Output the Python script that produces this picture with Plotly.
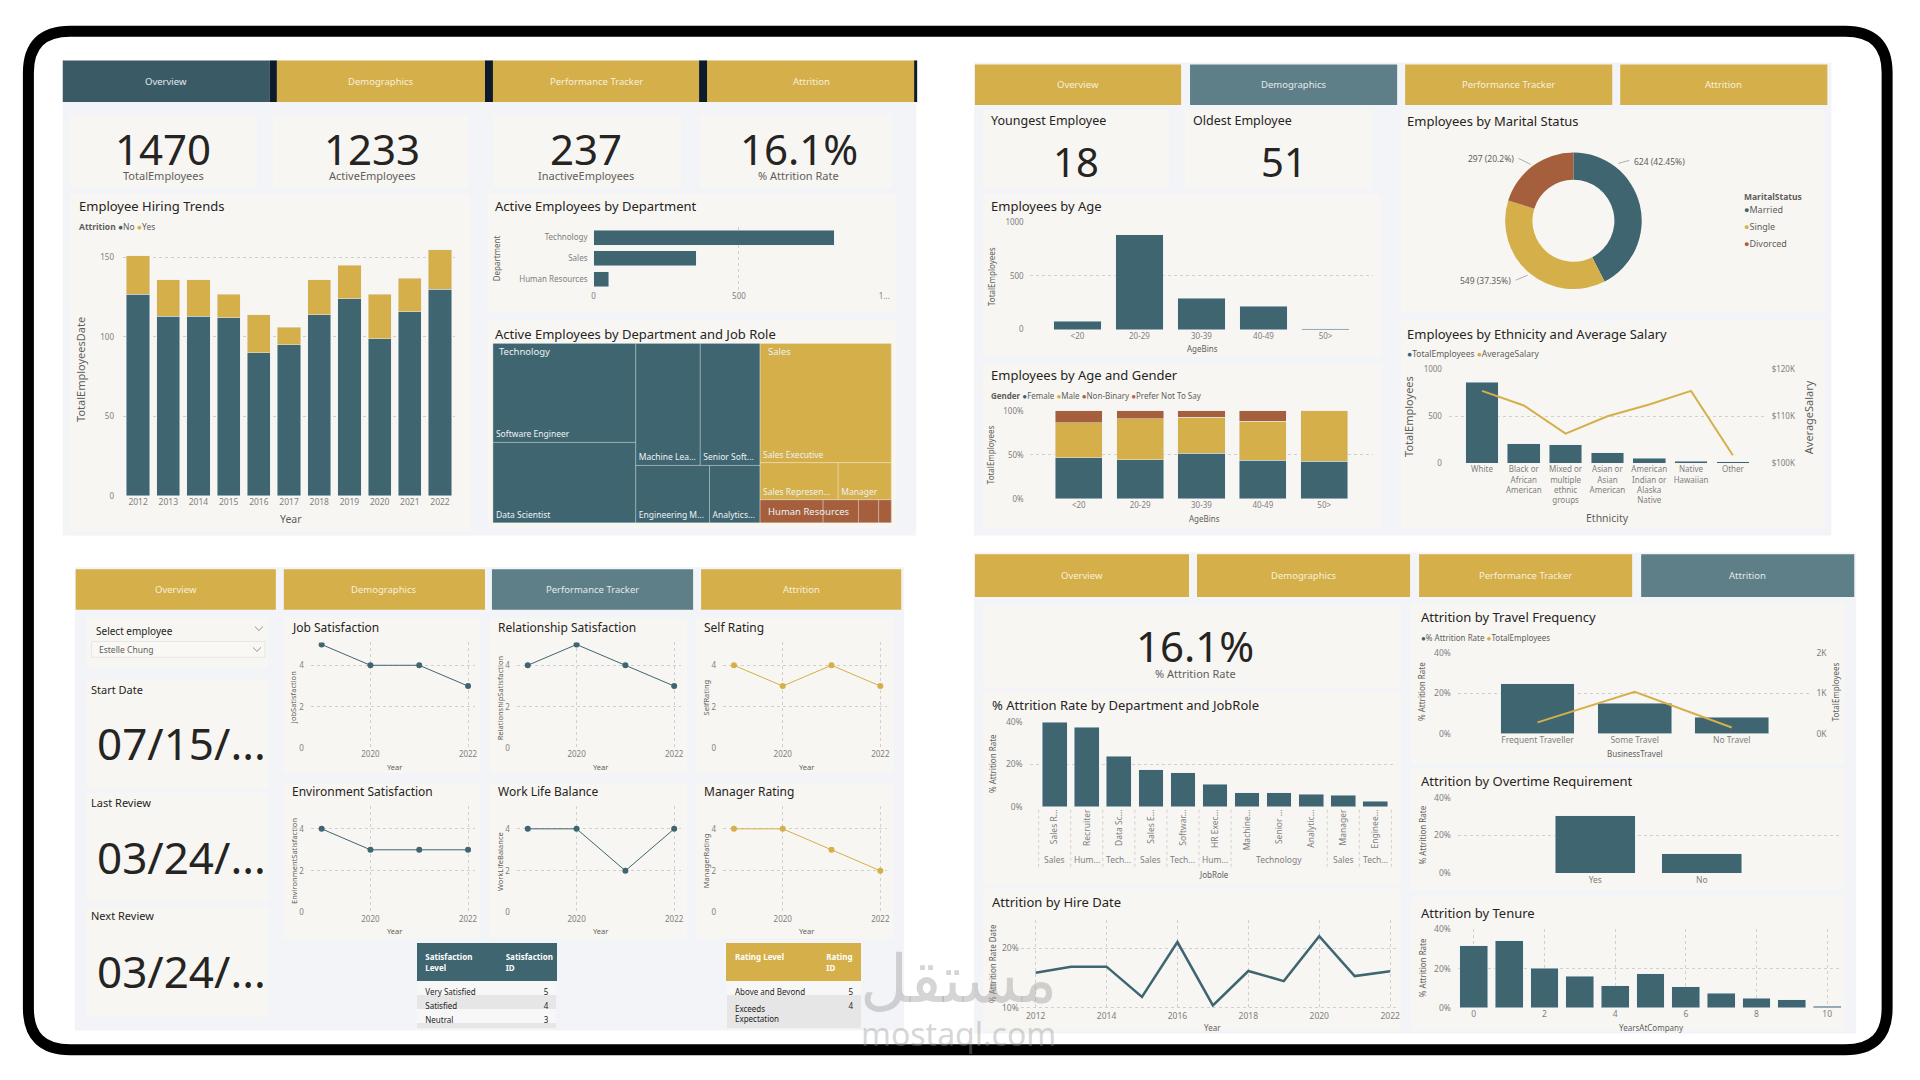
import textwrap
import plotly.graph_objects as go

W, H = 1920, 1080
def X(x): return x / W
def Y(y): return 1 - y / H

FONT = "Noto Sans"
TEAL = "#3f6571"; TEAL_DARK = "#3a5a66"; GOLD = "#d4af4a"; RUST = "#a65f3c"; ORANGE = "#cf5b3b"
SEL = "#5e7f88"; PANEL = "#f3f4f7"; CARD = "#f8f6f2"; SEP = "#0d1b2a"
TXT = "#252423"; SUB = "#605e5c"; TICK = "#7f7f7f"; GRID = "#d0d0d0"

# ---------------- data ----------------
years = [2012, 2013, 2014, 2015, 2016, 2017, 2018, 2019, 2020, 2021, 2022]
hired_active = [127, 113, 113, 112, 90, 95, 114, 124, 99, 116, 130]
hired_left = [24, 23, 23, 15, 24, 11, 22, 21, 28, 21, 25]

dept_names = ["Technology", "Sales", "Human Resources"]
dept_active = [827, 354, 52]

tm_dept = ["Technology"] * 6 + ["Sales"] * 3 + ["Human Resources"] * 4
tm_role = ["Software Engineer", "Data Scientist", "Machine Learning Engineer", "Senior Software Engineer",
           "Engineering Manager", "Analytics Manager", "Sales Executive", "Sales Representative", "Manager",
           "HR Executive", "Recruiter", "HR Manager", "HR Business Partner"]
tm_value = [244, 198, 136, 126, 73, 50, 270, 50, 34, 25, 14, 8, 5]
tm_shown = ["Software Engineer", "Data Scientist", "Machine Lea...", "Senior Soft...", "Engineering M...",
            "Analytics...", "Sales Executive", "Sales Represen...", "Manager", "", "", "", ""]

age_bins = ["<20", "20-29", "30-39", "40-49", "50>"]
age_counts = [80, 878, 290, 215, 7]
gender_names = ["Female", "Male", "Non-Binary", "Prefer Not To Say"]
gender_share = [[46.6, 44.4, 51.9, 43.7, 42.9],
                [40.0, 46.6, 40.6, 44.7, 57.1],
                [13.4, 9.0, 7.5, 11.6, 0.0],
                [0.0, 0.0, 0.0, 0.0, 0.0]]

marital = ["Married", "Single", "Divorced"]
marital_counts = [624, 549, 297]

ethnicity = ["White", "Black or African American", "Mixed or multiple ethnic groups", "Asian or Asian American",
             "American Indian or Alaska Native", "Native Hawaiian", "Other"]
eth_counts = [861, 209, 199, 111, 52, 24, 14]
eth_salary = [115400, 112300, 106300, 110000, 112500, 115400, 101700]

perf_years = [2019, 2020, 2021, 2022]
job_sat = [5, 4, 4, 3]
rel_sat = [4, 5, 4, 3]
self_rating = [4, 3, 4, 3]
env_sat = [4, 3, 3, 3]
work_life = [4, 4, 2, 4]
mgr_rating = [4, 4, 3, 2]

employee = "Estelle Chung"
start_date = "07/15/..."
last_review = "03/24/..."
next_review = "03/24/..."

sat_levels = ["Very Satisfied", "Satisfied", "Neutral", "Dissatisfied", "Very Dissatisfied"]
sat_ids = [5, 4, 3, 2, 1]
rating_levels = ["Above and Beyond", "Exceeds Expectation", "Meets Expectation", "Needs Improvement", "Unacceptable"]
rating_ids = [5, 4, 3, 2, 1]

role_names = ["Sales Representative", "Recruiter", "Data Scientist", "Sales Executive", "Software Engineer",
              "HR Executive", "Machine Learning Engineer", "Senior Software Engineer", "Analytics Manager",
              "Manager", "Engineering Manager"]
role_short = ["Sales R...", "Recruiter", "Data Sc...", "Sales E...", "Softwar...", "HR Exec...", "Machine...",
              "Senior ...", "Analytic...", "Manager", "Enginee..."]
role_dept = ["Sales", "Human Resources", "Technology", "Sales", "Technology", "Human Resources", "Technology",
             "Technology", "Technology", "Sales", "Technology"]
role_rate = [39.7, 37.4, 23.7, 17.4, 15.9, 10.6, 6.7, 6.7, 5.8, 5.3, 2.6]
dept_short = {"Sales": "Sales", "Human Resources": "Hum...", "Technology": "Tech..."}

travel = ["Frequent Traveller", "Some Travel", "No Travel"]
travel_rate = [24.9, 15.0, 8.0]
travel_total = [277, 1043, 150]
overtime = ["Yes", "No"]
overtime_rate = [30.4, 10.2]
tenure_years = [0, 1, 2, 3, 4, 5, 6, 7, 8, 9, 10]
tenure_rate = [31.6, 34.3, 20.1, 16.0, 11.3, 17.4, 10.6, 7.3, 4.9, 4.1, 0.7]

nav_labels = ["Overview", "Demographics", "Performance Tracker", "Attrition"]

# ---------------- derived KPIs ----------------
total_emp = sum(hired_active) + sum(hired_left)
active_emp = sum(hired_active)
inactive_emp = sum(hired_left)
attr_rate = inactive_emp / total_emp * 100
hire_rate = [l / (a + l) * 100 for a, l in zip(hired_active, hired_left)]

fig = go.Figure()
shapes, ann = [], []

def rect(x0, y0, x1, y1, fill, layer="below", line=None):
    shapes.append(dict(type="rect", xref="paper", yref="paper", x0=X(x0), x1=X(x1), y0=Y(y1), y1=Y(y0),
                       fillcolor=fill, line=line or dict(width=0), layer=layer))

def text(x, y, s, size, color=TXT, xa="left", ya="middle", angle=0, **kw):
    d = dict(x=X(x), y=Y(y), xref="paper", yref="paper", text=s, showarrow=False, xanchor=xa, yanchor=ya,
             textangle=angle, font=dict(size=size, color=color, family=FONT))
    d.update(kw)
    ann.append(d)

def dot(c):
    return f"<span style='color:{c}'>●</span>"

def pct(vals):
    return [f"{v:g}%" for v in vals]

# ---------------- panels / nav ----------------
rect(61, 55, 918, 535, PANEL)
rect(976, 57, 1837, 535, PANEL)
rect(73, 567, 906, 1035, PANEL)
rect(976, 552, 1862, 1038, PANEL)

navs = [
    ([(61, 269), (276, 485), (493, 700), (708, 917)], (55, 97), 0, TEAL_DARK),
    ([(977, 1184), (1193, 1401), (1409, 1617), (1625, 1833)], (59, 100), 1, SEL),
    ([(74, 275), (283, 485), (492, 694), (702, 903)], (569, 610), 2, SEL),
    ([(977, 1192), (1200, 1414), (1423, 1637), (1646, 1860)], (554, 597), 3, SEL),
]
for k, (xs, (y0, y1), sel, selc) in enumerate(navs):
    for i, (x0, x1) in enumerate(xs):
        rect(x0, y0, x1, y1, selc if i == sel else GOLD)
        text((x0 + x1) / 2, (y0 + y1) / 2, nav_labels[i], 9.5,
             color="#e4eaec" if i == sel else "#f7f1de", xa="center")
for x0, x1 in [(269, 276), (485, 493), (700, 708), (916, 919)]:
    rect(x0, 55, x1, 97, SEP)

# ---------------- cards ----------------
for c in [(68, 110, 256, 183), (272, 110, 468, 183), (493, 110, 682, 183), (700, 110, 893, 183),
          (68, 190, 470, 530), (488, 190, 898, 310), (488, 318, 898, 528),
          (985, 105, 1172, 185), (1188, 105, 1375, 185), (985, 190, 1385, 355), (985, 362, 1385, 528),
          (1405, 105, 1830, 310), (1405, 318, 1830, 528),
          (85, 618, 267, 668), (85, 680, 267, 790), (85, 795, 267, 905), (85, 910, 267, 1020),
          (283, 618, 480, 775), (490, 618, 688, 775), (697, 618, 895, 775),
          (283, 785, 480, 942), (490, 785, 688, 942), (697, 785, 895, 942),
          (985, 606, 1405, 688), (985, 692, 1405, 888), (985, 892, 1405, 1035),
          (1415, 603, 1850, 765), (1415, 770, 1850, 893), (1415, 900, 1850, 1035)]:
    rect(*c, CARD)

# ---------------- axes helper ----------------
axes = {}
def ref(n, a):
    return a if n == 1 else f"{a}{n}"

def add_axes(n, xd, yd, xkw=None, ykw=None):
    base = dict(showline=False, zeroline=False, ticks="", showgrid=False, gridcolor=GRID, griddash="dot",
                gridwidth=1, fixedrange=True, tickfont=dict(size=8, color=TICK, family=FONT))
    xa = dict(base); xa.update(domain=[X(xd[0]), X(xd[1])], anchor=ref(n, "y")); xa.update(xkw or {})
    ya = dict(base); ya.update(domain=[Y(yd[1]), Y(yd[0])], anchor=ref(n, "x")); ya.update(ykw or {})
    axes["xaxis" if n == 1 else f"xaxis{n}"] = xa
    axes["yaxis" if n == 1 else f"yaxis{n}"] = ya

F85 = dict(size=8.5, color=TICK, family=FONT)

# ---------------- Q1: overview ----------------
for cx, val, lab in [(162, f"{total_emp}", "TotalEmployees"), (372, f"{active_emp}", "ActiveEmployees"),
                     (586, f"{inactive_emp}", "InactiveEmployees"), (800, f"{attr_rate:.1f}%", "% Attrition Rate")]:
    text(cx, 144, val, 42, xa="center")
    text(cx, 171, lab, 11, color=SUB, xa="center")

text(75, 202, "Employee Hiring Trends", 13)
text(75, 223, f"<b>Attrition</b> {dot(TEAL)}No {dot(GOLD)}Yes", 8.5, color=SUB)
fig.add_bar(x=years, y=hired_active, marker_color=TEAL, width=0.77, xaxis="x", yaxis="y", name="No")
fig.add_bar(x=years, y=hired_left, marker_color=GOLD, width=0.77, xaxis="x", yaxis="y", name="Yes")
add_axes(1, (121.5, 455), (238, 495),
         dict(type="category", tickfont=F85),
         dict(range=[0, 160], tickvals=[0, 50, 100, 150], showgrid=True, ticklabelstandoff=8))
text(79, 367, "TotalEmployeesDate", 11, color=SUB, xa="center", angle=-90)
text(290, 518, "Year", 10.5, color=SUB, xa="center")

text(493, 202, "Active Employees by Department", 13)
fig.add_bar(x=dept_active, y=dept_names, orientation="h", marker_color=TEAL, width=0.72, xaxis="x2", yaxis="y2")
add_axes(2, (594, 886), (223.5, 286.5),
         dict(range=[0, 1000], tickvals=[0, 500, 1000], ticktext=["0", "500", "1..."], showgrid=True),
         dict(type="category", categoryorder="array", categoryarray=dept_names, autorange="reversed",
              ticklabelstandoff=5))
text(496, 255, "Department", 8, color=SUB, xa="center", angle=-90)

text(493, 331, "Active Employees by Department and Job Role", 13)
depts_u = list(dict.fromkeys(tm_dept))
dcol = {"Technology": TEAL, "Sales": GOLD, "Human Resources": RUST}
ids = depts_u + [f"{d}/{r}" for d, r in zip(tm_dept, tm_role)]
labels = depts_u + tm_role
parents = [""] * len(depts_u) + tm_dept
values = [0] * len(depts_u) + tm_value
shown = [""] * len(depts_u) + tm_shown
colors = [dcol[d] for d in depts_u] + [dcol[d] for d in tm_dept]
fig.add_trace(go.Treemap(ids=ids, labels=labels, parents=parents, values=values, text=shown,
                         texttemplate="%{text}", textposition="bottom left", sort=True,
                         marker=dict(colors=colors, line=dict(color="rgba(255,255,255,0.35)", width=1),
                                     pad=dict(t=0, l=0, r=0, b=0)),
                         textfont=dict(size=8.5, color="#eef2f3", family=FONT),
                         tiling=dict(packing="squarify", squarifyratio=1.618, pad=0), pathbar=dict(visible=False),
                         domain=dict(x=[X(493), X(893)], y=[Y(522), Y(341)]), hoverinfo="skip"))
# department header labels in the top-left corner of each department block
for d, (lx, ly) in zip(depts_u, [(497, 349), (767, 349), (767, 511)]):
    text(lx, ly, d, 9.5, color="#eef2f3")

# ---------------- Q2: demographics ----------------
text(991, 116, "Youngest Employee", 12.5)
text(1078, 157, "18", 40, xa="center")
text(1194, 116, "Oldest Employee", 12.5)
text(1287, 157, "51", 40, xa="center")

text(991, 202, "Employees by Age", 13)
fig.add_bar(x=age_bins, y=age_counts, marker_color=TEAL, width=0.77, xaxis="x3", yaxis="y3")
add_axes(3, (1032, 1377), (218, 327),
         dict(type="category", range=[-0.77, 4.77]),
         dict(range=[0, 1000], tickvals=[0, 500, 1000], showgrid=True, ticklabelstandoff=5))
text(993, 273, "TotalEmployees", 8, color=SUB, xa="center", angle=-90)
text(1206, 346, "AgeBins", 8, color=SUB, xa="center")

text(991, 373, "Employees by Age and Gender", 13)
gcols = [TEAL, GOLD, RUST, ORANGE]
text(991, 394, "<b>Gender</b> " + " ".join(f"{dot(c)}{g}" for g, c in zip(gender_names, gcols)), 8, color=SUB)
for g, c, share in zip(gender_names, gcols, gender_share):
    fig.add_bar(x=age_bins, y=share, marker_color=c, width=0.77, xaxis="x4", yaxis="y4", name=g)
add_axes(4, (1032, 1377), (409, 498),
         dict(type="category", range=[-0.8, 4.8]),
         dict(range=[0, 100], tickvals=[0, 50, 100], ticktext=pct([0, 50, 100]), showgrid=True,
              ticklabelstandoff=5))
text(993, 453, "TotalEmployees", 8, color=SUB, xa="center", angle=-90)
text(1208, 518, "AgeBins", 8, color=SUB, xa="center")

text(1409, 116, "Employees by Marital Status", 13)
mcols = [TEAL, GOLD, RUST]
fig.add_trace(go.Pie(labels=marital, values=marital_counts, hole=0.6, sort=False, direction="clockwise",
                     textinfo="none", marker=dict(colors=mcols, line=dict(width=0)), showlegend=False,
                     domain=dict(x=[X(1509), X(1647)], y=[Y(286), Y(148)]), hoverinfo="skip"))
pie_lab_pos = [(1637, 157, "left", (1623, 159, 1634, 156)),
               (1517, 277, "right", (1532, 272, 1520, 277)),
               (1520, 154, "right", (1535, 160, 1523, 154))]
tot_m = sum(marital_counts)
for v, (lx, ly, anc, ln) in zip(marital_counts, pie_lab_pos):
    p = f"{v / tot_m * 100:.2f}".rstrip("0").rstrip(".")
    text(lx, ly, f"{v} ({p}%)", 8.5, color=SUB, xa=anc)
    shapes.append(dict(type="line", xref="paper", yref="paper", x0=X(ln[0]), y0=Y(ln[1]), x1=X(ln[2]),
                       y1=Y(ln[3]), line=dict(color="#9a9a9a", width=0.8)))
text(1747, 192, "<b>MaritalStatus</b>", 8.5, color=SUB)
for i, (m, c) in enumerate(zip(marital, mcols)):
    text(1747, 206 + 17 * i, f"{dot(c)}{m}", 9, color=SUB)

text(1409, 331, "Employees by Ethnicity and Average Salary", 13)
text(1409, 351, f"{dot(TEAL)}TotalEmployees {dot(GOLD)}AverageSalary", 8.5, color=SUB)
fig.add_bar(x=ethnicity, y=eth_counts, marker_color=TEAL, width=0.78, xaxis="x5", yaxis="y5")
fig.add_scatter(x=ethnicity, y=eth_salary, mode="lines", line=dict(color=GOLD, width=2), xaxis="x5", yaxis="y17")
add_axes(5, (1453, 1770), (367, 462),
         dict(type="category", range=[-0.79, 6.76], tickvals=ethnicity,
              ticktext=["<br>".join(textwrap.wrap(e, 9)) for e in ethnicity]),
         dict(range=[0, 1000], tickvals=[0, 500, 1000], showgrid=True, ticklabelstandoff=6))
axes["yaxis17"] = dict(overlaying="y5", side="right", anchor="x5", range=[100000, 120000],
                       tickvals=[100000, 110000, 120000], ticktext=["$100K", "$110K", "$120K"],
                       showgrid=False, zeroline=False, showline=False, ticks="", fixedrange=True,
                       tickfont=dict(size=8, color=TICK, family=FONT), ticklabelstandoff=6)
text(1413, 415, "TotalEmployees", 11, color=SUB, xa="center", angle=-90)
text(1814, 415, "AverageSalary", 11, color=SUB, xa="center", angle=-90)
text(1612, 517, "Ethnicity", 10.5, color=SUB, xa="center")

# ---------------- Q3: performance tracker ----------------
text(92, 631, "Select employee", 10)
rect(90, 642, 264, 658, "#f9f8f5", line=dict(color="#e2e2e2", width=0.8))
text(95, 650, employee, 8.5, color=SUB)
for cx, cy in [(258, 629), (256, 650)]:
    shapes.append(dict(type="path", xref="paper", yref="paper", layer="above",
                       path=f"M {X(cx-4)},{Y(cy-2)} L {X(cx)},{Y(cy+2)} L {X(cx+4)},{Y(cy-2)}",
                       line=dict(color="#777777", width=0.8)))
for ly, lab, vy, val in [(691, "Start Date", 745, start_date), (805, "Last Review", 860, last_review),
                         (919, "Next Review", 975, next_review)]:
    text(87, ly, lab, 11)
    text(93, vy, val, 44)

line_charts = [("Job Satisfaction", "JobSatisfaction", job_sat, TEAL),
               ("Relationship Satisfaction", "RelationshipSatisfaction", rel_sat, TEAL),
               ("Self Rating", "SelfRating", self_rating, GOLD),
               ("Environment Satisfaction", "EnvironmentSatisfaction", env_sat, TEAL),
               ("Work Life Balance", "WorkLifeBalance", work_life, TEAL),
               ("Manager Rating", "ManagerRating", mgr_rating, GOLD)]
col_x0 = [321, 528, 735]
row_dom = [(643, 750), (808, 916)]
row_title = [628, 794]
for i, (title, ytl, vals, c) in enumerate(line_charts):
    r, cidx = divmod(i, 3)
    n = 6 + i
    x0 = col_x0[cidx]
    fig.add_scatter(x=perf_years, y=vals, mode="lines+markers", line=dict(color=c, width=1),
                    marker=dict(color=c, size=6), xaxis=ref(n, "x"), yaxis=ref(n, "y"))
    add_axes(n, (x0 - 11, x0 + 154), row_dom[r],
             dict(range=[2018.776, 2022.143], tickvals=[2020, 2022], showgrid=True),
             dict(range=[0, 5.1], tickvals=[0, 2, 4], showgrid=True, ticklabelstandoff=6))
    text(x0 - 32, row_title[r], title, 12)
    text(x0 - 28, (row_dom[r][0] + row_dom[r][1]) / 2 + 2, ytl, 7.5, color=SUB, xa="center", angle=-90)
    text(x0 + 73, row_dom[r][1] + 19, "Year", 7.5, color=SUB, xa="center")

def row_fills(n):
    return ["#f7f7f7" if k % 2 == 0 else "#e6e6e6" for k in range(n)]

fig.add_trace(go.Table(domain=dict(x=[X(417), X(557)], y=[Y(1033), Y(947)]), columnwidth=[81, 59],
                       header=dict(values=["<b>Satisfaction<br>Level</b>", "<b>Satisfaction<br>ID</b>"],
                                   fill_color=TEAL, line_color=TEAL, align="left", height=24,
                                   font=dict(color="white", size=8, family=FONT)),
                       cells=dict(values=[sat_levels, sat_ids], fill_color=[row_fills(5)] * 2,
                                  line_color="rgba(0,0,0,0)", align=["left", "right"], height=14,
                                  font=dict(color=TXT, size=8, family=FONT))))
fig.add_trace(go.Table(domain=dict(x=[X(728), X(863)], y=[Y(1033), Y(947)]), columnwidth=[92, 43],
                       header=dict(values=["<b>Rating Level</b>", "<b>Rating<br>ID</b>"],
                                   fill_color=GOLD, line_color=GOLD, align="left", height=24,
                                   font=dict(color="white", size=8, family=FONT)),
                       cells=dict(values=[rating_levels, rating_ids], fill_color=[row_fills(5)] * 2,
                                  line_color="rgba(0,0,0,0)", align=["left", "right"], height=14,
                                  font=dict(color=TXT, size=8, family=FONT))))

# ---------------- Q4: attrition ----------------
text(1198, 646, f"{attr_rate:.1f}%", 42, xa="center")
text(1198, 674, "% Attrition Rate", 11, color=SUB, xa="center")

text(992, 706, "% Attrition Rate by Department and JobRole", 13)
fig.add_bar(x=role_names, y=role_rate, marker_color=TEAL, width=0.77, xaxis="x12", yaxis="y12")
add_axes(12, (1032, 1400), (723, 809),
         dict(type="category", range=[-0.78, 10.65], tickvals=role_names, ticktext=role_short, tickangle=-90,
              tickfont=F85),
         dict(range=[0, 40], tickvals=[0, 20, 40], ticktext=pct([0, 20, 40]), showgrid=True,
              ticklabelstandoff=6, tickfont=F85))
runs = []
for i, d in enumerate(role_dept):
    if runs and runs[-1][0] == d:
        runs[-1][2] = i
    else:
        runs.append([d, i, i])
bounds = [-0.5]
for d, a, b in runs:
    lab = d if b - a >= 2 else dept_short[d]
    ann.append(dict(x=(a + b) / 2, y=Y(862), xref="x12", yref="paper", text=lab, showarrow=False,
                    xanchor="center", yanchor="middle", font=F85))
    bounds.append(b + 0.5)
for bx in bounds:
    shapes.append(dict(type="line", xref="x12", yref="paper", x0=bx, x1=bx, y0=Y(812), y1=Y(870),
                       line=dict(color="#cfcfcf", width=1, dash="dot")))
text(994, 765, "% Attrition Rate", 8, color=SUB, xa="center", angle=-90)
text(1217, 877, "JobRole", 8, color=SUB, xa="center")

text(992, 905, "Attrition by Hire Date", 13)
fig.add_scatter(x=years, y=hire_rate, mode="lines", line=dict(color=TEAL, width=2.5), xaxis="x13", yaxis="y13")
add_axes(13, (1023, 1400), (923, 1014),
         dict(range=[2011.58, 2022.17], tickvals=years[::2], showgrid=True, tickfont=F85),
         dict(range=[9.67, 24.83], tickvals=[10, 20], ticktext=pct([10, 20]), showgrid=True,
              ticklabelstandoff=1, tickfont=F85))
text(994, 967, "% Attrition Rate Date", 8, color=SUB, xa="center", angle=-90)
text(1216, 1032, "Year", 8, color=SUB, xa="center")

text(1423, 617, "Attrition by Travel Frequency", 13)
text(1423, 638, f"{dot(TEAL)}% Attrition Rate {dot(GOLD)}TotalEmployees", 8, color=SUB)
fig.add_bar(x=travel, y=travel_rate, marker_color=TEAL, width=0.76, xaxis="x14", yaxis="y14")
fig.add_scatter(x=travel, y=travel_total, mode="lines", line=dict(color=GOLD, width=2), xaxis="x14", yaxis="y18")
add_axes(14, (1462, 1815), (654, 735),
         dict(type="category", range=[-0.82, 2.8], tickfont=F85),
         dict(range=[0, 40], tickvals=[0, 20, 40], ticktext=pct([0, 20, 40]), showgrid=True,
              ticklabelstandoff=6, tickfont=F85))
axes["yaxis18"] = dict(overlaying="y14", side="right", anchor="x14", range=[0, 2000], tickvals=[0, 1000, 2000],
                       ticktext=["0K", "1K", "2K"], showgrid=False, zeroline=False, showline=False, ticks="",
                       fixedrange=True, tickfont=F85, ticklabelstandoff=6)
text(1426, 693, "% Attrition Rate", 8, color=SUB, xa="center", angle=-90)
text(1842, 693, "TotalEmployees", 8, color=SUB, xa="center", angle=-90)
text(1639, 755, "BusinessTravel", 8, color=SUB, xa="center")

text(1423, 783, "Attrition by Overtime Requirement", 13)
fig.add_bar(x=overtime, y=overtime_rate, marker_color=TEAL, width=0.75, xaxis="x15", yaxis="y15")
add_axes(15, (1462, 1847), (800, 876),
         dict(type="category", range=[-1.29, 2.31], tickfont=F85),
         dict(range=[0, 40], tickvals=[0, 20, 40], ticktext=pct([0, 20, 40]), showgrid=True,
              ticklabelstandoff=6, tickfont=F85))
text(1426, 838, "% Attrition Rate", 8, color=SUB, xa="center", angle=-90)

text(1423, 916, "Attrition by Tenure", 13)
fig.add_bar(x=tenure_years, y=tenure_rate, marker_color=TEAL, width=0.79, xaxis="x16", yaxis="y16")
add_axes(16, (1462, 1847), (933, 1012),
         dict(range=[-0.45, 10.4], tickvals=tenure_years[::2], showgrid=True, tickfont=F85),
         dict(range=[0, 40], tickvals=[0, 20, 40], ticktext=pct([0, 20, 40]), showgrid=True,
              ticklabelstandoff=6, tickfont=F85))
text(1426, 972, "% Attrition Rate", 8, color=SUB, xa="center", angle=-90)
text(1656, 1032, "YearsAtCompany", 8, color=SUB, xa="center")

# ---------------- watermark & frame ----------------
text(961, 980, "مستقل", 66, color="rgba(150,150,150,0.40)", xa="center")
text(961, 1038, "mostaql.com", 32, color="rgba(150,150,150,0.40)", xa="center")

def rounded(x0, y0, x1, y1, r):
    return (f"M {X(x0 + r)},{Y(y0)} L {X(x1 - r)},{Y(y0)} Q {X(x1)},{Y(y0)} {X(x1)},{Y(y0 + r)} "
            f"L {X(x1)},{Y(y1 - r)} Q {X(x1)},{Y(y1)} {X(x1 - r)},{Y(y1)} "
            f"L {X(x0 + r)},{Y(y1)} Q {X(x0)},{Y(y1)} {X(x0)},{Y(y1 - r)} "
            f"L {X(x0)},{Y(y0 + r)} Q {X(x0)},{Y(y0)} {X(x0 + r)},{Y(y0)} Z")
shapes.append(dict(type="path", xref="paper", yref="paper", layer="above", path=rounded(26.5, 25.5, 1893, 1054.5, 42),
                   line=dict(color="black", width=11), fillcolor="rgba(0,0,0,0)"))

fig.update_layout(width=W, height=H, margin=dict(l=0, r=0, t=0, b=0), paper_bgcolor="white",
                  plot_bgcolor="rgba(0,0,0,0)", showlegend=False, barmode="stack",
                  font=dict(family=FONT, color=TXT), shapes=shapes, annotations=ann, **axes)
fig.write_html("out.html", config={"displayModeBar": False},
               post_script="document.body.style.margin='0px';document.body.style.overflow='hidden';")
